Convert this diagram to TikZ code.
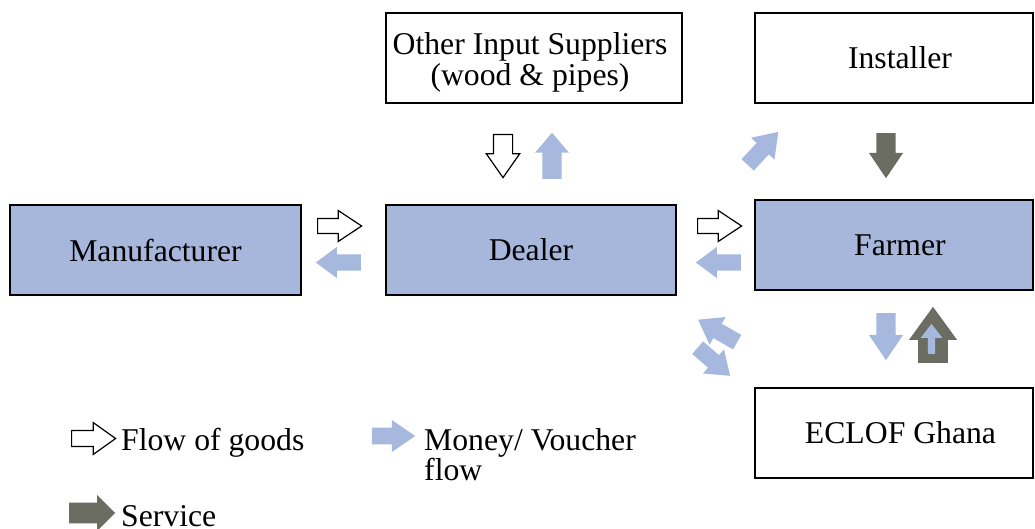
\documentclass[tikz,border=0pt]{standalone}
\usepackage{fontspec}
\setmainfont{Liberation Serif}
\usetikzlibrary{shapes.arrows}
\definecolor{moneyblue}{HTML}{A6B8DD}
\definecolor{boxblue}{HTML}{A7B7DC}
\definecolor{servgray}{HTML}{6B6D63}
\tikzset{
  txt/.style={font=\fontsize{31.7}{31}\selectfont},
  box/.style={draw=black, line width=1.4pt, inner sep=0pt, align=center, txt},
  filledbox/.style={box, fill=boxblue},
  arr/.style={single arrow, inner xsep=0pt, single arrow head indent=0pt, anchor=tail},
  goods/.style={arr, draw=black, fill=white, line width=1.2pt},
  money/.style={arr, draw=none, fill=moneyblue},
  service/.style={arr, draw=none, fill=servgray},
  legendtext/.style={anchor=base west, inner sep=0pt, align=left,
    font=\fontsize{31.7}{30}\selectfont}
}
\begin{document}
\begin{tikzpicture}[x=1pt,y=1pt]
\useasboundingbox (0,0) rectangle (1035,-529);
% boxes
\node[filledbox, minimum width=291pt, minimum height=90pt] (man) at (155.5,-250) {Manufacturer};
\node[filledbox, minimum width=290pt, minimum height=90pt] (dealer) at (531,-250) {Dealer};
\node[filledbox, minimum width=278pt, minimum height=90pt] (farmer) at (894,-245) {\hspace*{12pt}Farmer};
\node[box, minimum width=296pt, minimum height=90pt] (other) at (534,-58) {};
\node[txt, align=center, inner sep=0pt] (othert) at ([xshift=-4pt,yshift=-4pt]other.center) {Other Input Suppliers\\(wood \& pipes)};
\node[box, minimum width=278pt, minimum height=90pt] (inst) at (894,-58) {\hspace*{12pt}Installer};
\node[box, minimum width=278pt, minimum height=90pt] (eclof) at (894,-433) {\hspace*{13pt}ECLOF Ghana};
% arrows manufacturer - dealer
\node[goods, minimum height=44pt, minimum width=31pt, inner ysep=6pt, single arrow tip angle=67] (g1) at (317,-226) {};
\node[money, rotate=180, minimum height=45pt, minimum width=31pt, inner ysep=7.5pt, single arrow tip angle=73] (m1) at (361,-262.5) {};
% arrows dealer - farmer
\node[goods, minimum height=44pt, minimum width=31pt, inner ysep=6pt, single arrow tip angle=67] (g2) at (697,-226) {};
\node[money, rotate=180, minimum height=45pt, minimum width=31pt, inner ysep=7.5pt, single arrow tip angle=73] (m2) at (741,-262.5) {};
% arrows other suppliers - dealer
\node[goods, rotate=-90, minimum height=43pt, minimum width=33pt, inner ysep=9pt, single arrow tip angle=70] (g3) at (503,-134) {};
\node[money, rotate=90, minimum height=46pt, minimum width=34pt, inner ysep=9pt, single arrow tip angle=81] (m3) at (552,-179) {};
% dealer to installer money
\node[money, rotate=47, minimum height=45pt, minimum width=32pt, inner ysep=7.6pt, single arrow tip angle=70] (m4) at (747.5,-165) {};
% installer service
\node[service, rotate=-90, minimum height=45pt, minimum width=34pt, inner ysep=9pt, single arrow tip angle=68] (s1) at (886,-133) {};
% farmer - eclof
\node[money, rotate=-90, minimum height=47pt, minimum width=34pt, inner ysep=9pt, single arrow tip angle=68] (m5) at (886,-313) {};
\node[service, rotate=90, minimum height=56pt, minimum width=48pt, inner ysep=11.5pt, single arrow tip angle=72] (s2) at (933,-363) {};
\node[money, rotate=90, minimum height=30pt, minimum width=17pt, inner ysep=3.5pt, single arrow tip angle=75] (m6) at (931.5,-354) {};
% dealer - eclof
\node[money, rotate=150, minimum height=45pt, minimum width=32pt, inner ysep=7.5pt, single arrow tip angle=71] (m7) at (737.3,-342.3) {};
\node[money, rotate=-41, minimum height=43pt, minimum width=32pt, inner ysep=7.5pt, single arrow tip angle=72] (m8) at (697.5,-347.5) {};
% legend
\node[goods, minimum height=44pt, minimum width=32pt, inner ysep=6.5pt, single arrow tip angle=71] (lg) at (71,-438.5) {};
\node[legendtext] (lgt) at (121,-450) {Flow of goods};
\node[money, minimum height=43.3pt, minimum width=32pt, inner ysep=7.5pt, single arrow tip angle=69] (lm) at (371.7,-436) {};
\node[legendtext] (lmt) at (424,-480) {Money/ Voucher\\flow};
\node[service, minimum height=46pt, minimum width=36pt, inner ysep=9.5pt, single arrow tip angle=90] (ls) at (69,-513) {};
\node[legendtext] (lst) at (121,-526) {Service};
\end{tikzpicture}
\end{document}
